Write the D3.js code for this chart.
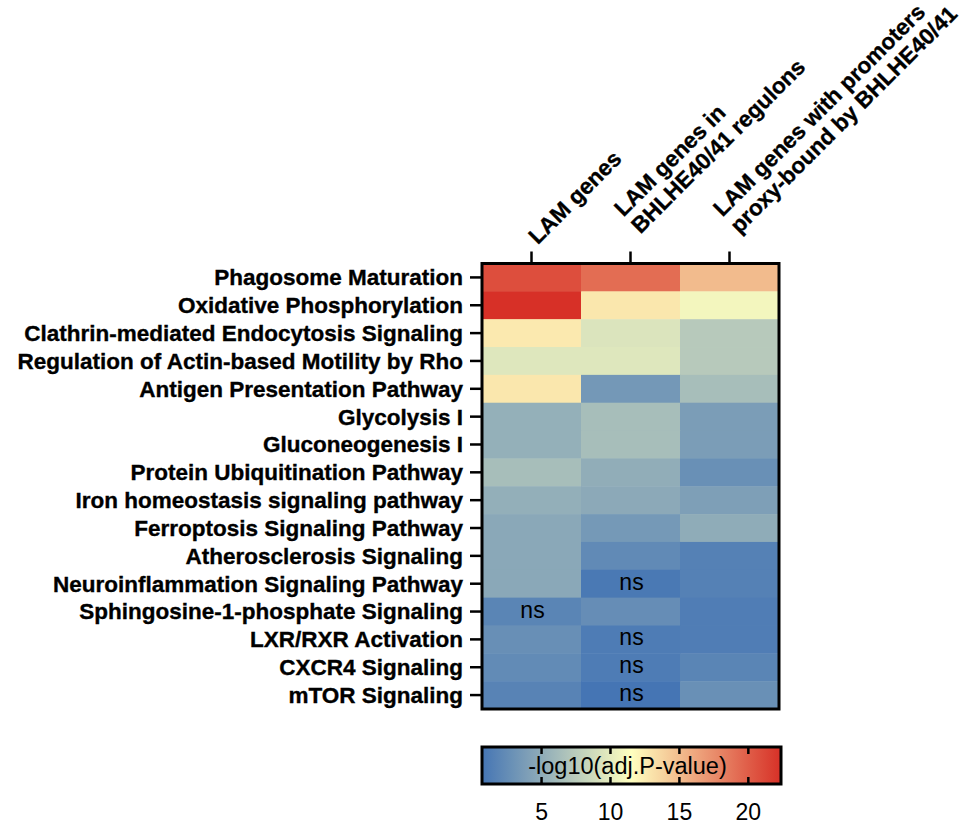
<!DOCTYPE html>
<html>
<head>
<meta charset="utf-8">
<script src="https://cdn.jsdelivr.net/npm/d3@7/dist/d3.min.js"></script>
<style>
  html, body { margin: 0; padding: 0; background: #fff; }
  svg { display: block; }
  text { font-family: "Liberation Sans", Arial, Helvetica, sans-serif; fill: #000; }
  .bold { stroke: #000; stroke-width: 0.35px; }
</style>
</head>
<body>
<svg id="chart" width="968" height="826"></svg>
<script>
// ---------------- data ----------------
const pathways = [
  "Phagosome Maturation",
  "Oxidative Phosphorylation",
  "Clathrin-mediated Endocytosis Signaling",
  "Regulation of Actin-based Motility by Rho",
  "Antigen Presentation Pathway",
  "Glycolysis I",
  "Gluconeogenesis I",
  "Protein Ubiquitination Pathway",
  "Iron homeostasis signaling pathway",
  "Ferroptosis Signaling Pathway",
  "Atherosclerosis Signaling",
  "Neuroinflammation Signaling Pathway",
  "Sphingosine-1-phosphate Signaling",
  "LXR/RXR Activation",
  "CXCR4 Signaling",
  "mTOR Signaling"
];
const columns = [
  ["LAM genes"],
  ["LAM genes in", "BHLHE40/41 regulons"],
  ["LAM genes with promoters", "proxy-bound by BHLHE40/41"]
];
// -log10(adj.P-value), one array per column, in pathway order
const lamGenes     = [20.8, 22.37, 12.7, 9.6, 12.8, 5.3, 5.3, 6.4, 5.2, 4.7, 4.7, 4.7, 1.9, 2.7, 2.4, 1.8];
const regulonGenes = [19.2, 12.8,  9.4, 9.6,  3.4, 6.4, 6.4, 5.1, 4.8, 3.5, 2.3, 1.0, 2.6, 1.2, 1.2, 0.68];
const proxyGenes   = [15.1, 10.8,  7.3, 7.3,  6.4, 3.8, 3.8, 2.8, 4.0, 5.0, 1.6, 1.6, 1.3, 1.3, 1.9, 2.8];
// non-significant cells (pathway names per column)
const nsLam     = ["Sphingosine-1-phosphate Signaling"];
const nsRegulon = ["Neuroinflammation Signaling Pathway", "LXR/RXR Activation", "CXCR4 Signaling", "mTOR Signaling"];
const nsProxy   = [];
const legendTicks = [5, 10, 15, 20];
const legendTitle = "-log10(adj.P-value)";

(function () {
// ---------------- build table ----------------
const series = [lamGenes, regulonGenes, proxyGenes];
const nsLists = [nsLam, nsRegulon, nsProxy];
const cells = [];
pathways.forEach((p, r) => {
  series.forEach((vals, c) => {
    cells.push({ row: p, col: c, value: vals[r], ns: nsLists[c].includes(p) });
  });
});

// ---------------- layout ----------------
const svg = d3.select("#chart");
const hmLeft = 482, hmRight = 779, hmTop = 263.5, hmBottom = 709;
const FS = 22.5;

const x = d3.scaleBand().domain(d3.range(columns.length)).range([hmLeft, hmRight]);
const y = d3.scaleBand().domain(pathways).range([hmTop, hmBottom]);

const allVals = series.flat();
const vMin = d3.min(allVals), vMax = d3.max(allVals), vMid = (vMin + vMax) / 2;
const color = d3.scaleLinear()
  .domain([vMin, vMid, vMax])
  .range(["#4575b4", "#ffffbf", "#d73027"])
  .interpolate(d3.interpolateRgb);

// cells
svg.append("g").selectAll("rect").data(cells).join("rect")
  .attr("x", d => x(d.col))
  .attr("y", d => y(d.row))
  .attr("width", x.bandwidth() + 0.5)
  .attr("height", y.bandwidth() + 0.5)
  .attr("fill", d => color(d.value));

// ns labels
svg.append("g").selectAll("text").data(cells.filter(d => d.ns)).join("text")
  .attr("x", d => x(d.col) + x.bandwidth() / 2 + 1)
  .attr("y", d => y(d.row) + y.bandwidth() / 2)
  .attr("dy", "0.26em")
  .attr("text-anchor", "middle")
  .style("font-size", "23px")
  .text("ns");

// frame
svg.append("rect")
  .attr("x", hmLeft).attr("y", hmTop)
  .attr("width", hmRight - hmLeft).attr("height", hmBottom - hmTop)
  .attr("fill", "none").attr("stroke", "#000").attr("stroke-width", 3);

// left axis
const yAxis = svg.append("g")
  .attr("transform", `translate(${hmLeft},0)`)
  .call(d3.axisLeft(y).tickSize(12).tickPadding(7));
yAxis.select(".domain").remove();
yAxis.selectAll(".tick line").attr("stroke", "#000").attr("stroke-width", 2.5);
yAxis.selectAll(".tick text")
  .attr("class", "bold")
  .attr("dy", "0.35em")
  .style("font-size", FS + "px")
  .style("font-weight", "bold")
  .style("font-family", '"Liberation Sans", Arial, sans-serif')
  .attr("fill", "#000");

// top axis ticks
const xAxis = svg.append("g")
  .attr("transform", `translate(0,${hmTop})`)
  .call(d3.axisTop(x).tickSize(12).tickFormat(""));
xAxis.select(".domain").remove();
xAxis.selectAll(".tick line").attr("stroke", "#000").attr("stroke-width", 2.5);

// rotated column labels
const lineH = 24;
const colLabels = svg.append("g").selectAll("text").data(columns).join("text")
  .attr("class", "bold")
  .attr("transform", (d, i) => `translate(${x(i) + x.bandwidth() / 2},${hmTop - 12}) rotate(-45)`)
  .style("font-size", FS + "px")
  .style("font-weight", "bold");
colLabels.each(function(lines) {
  const multi = lines.length > 1;
  const t = d3.select(this);
  lines.forEach((ln, k) => {
    t.append("tspan")
      .attr("x", multi ? 19 : 9)
      .attr("y", (multi ? -5 : 0) - (lines.length - 1 - k) * lineH)
      .text(ln);
  });
});

// ---------------- colour legend ----------------
const lgLeft = 482, lgRight = 781, lgTop = 747, lgBottom = 784;
const lx = d3.scaleLinear().domain([vMin, vMax]).range([lgLeft, lgRight]);
const defs = svg.append("defs");
const grad = defs.append("linearGradient").attr("id", "lg")
  .attr("x1", "0%").attr("x2", "100%").attr("y1", "0%").attr("y2", "0%");
d3.range(0, 1.0001, 0.05).forEach(t => {
  const v = vMin + t * (vMax - vMin);
  grad.append("stop").attr("offset", (t * 100) + "%").attr("stop-color", color(v));
});
svg.append("rect")
  .attr("x", lgLeft).attr("y", lgTop)
  .attr("width", lgRight - lgLeft).attr("height", lgBottom - lgTop)
  .attr("fill", "url(#lg)");

const lgTicks = svg.append("g").selectAll("g").data(legendTicks).join("g")
  .attr("transform", d => `translate(${lx(d)},0)`);
lgTicks.append("line").attr("y1", lgTop).attr("y2", lgTop + 7)
  .attr("stroke", "#000").attr("stroke-width", 2.5);
lgTicks.append("line").attr("y1", lgBottom - 7).attr("y2", lgBottom)
  .attr("stroke", "#000").attr("stroke-width", 2.5);
lgTicks.append("text")
  .attr("y", 820)
  .attr("text-anchor", "middle")
  .style("font-size", "23px")
  .text(d => d);

svg.append("rect")
  .attr("x", lgLeft).attr("y", lgTop)
  .attr("width", lgRight - lgLeft).attr("height", lgBottom - lgTop)
  .attr("fill", "none").attr("stroke", "#000").attr("stroke-width", 3);

svg.append("text")
  .attr("x", 627.5).attr("y", (lgTop + lgBottom) / 2)
  .attr("dy", "0.36em")
  .attr("text-anchor", "middle")
  .style("font-size", "23.5px")
  .text(legendTitle);
})();
</script>
</body>
</html>
